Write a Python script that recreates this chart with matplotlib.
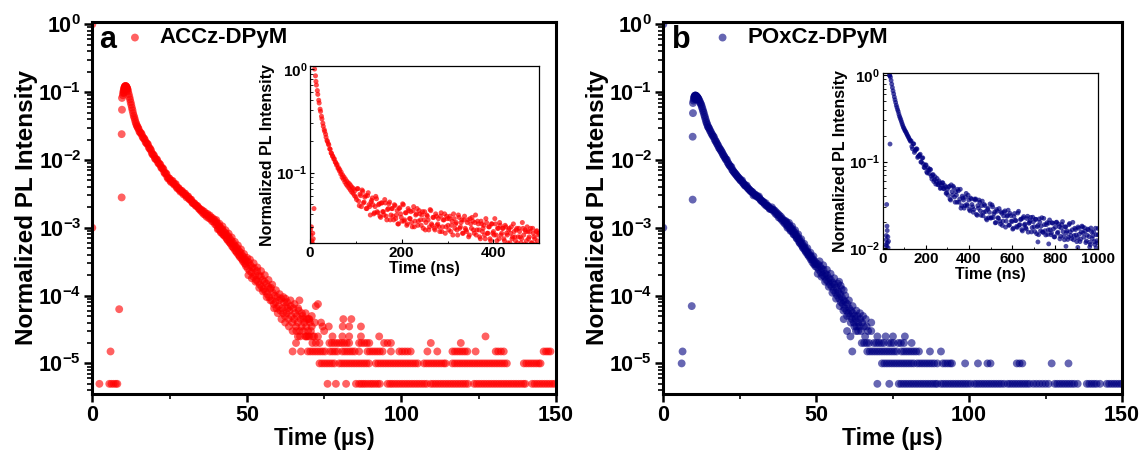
import numpy as np
import matplotlib
matplotlib.use("Agg")
import matplotlib.pyplot as plt
from matplotlib.ticker import LogLocator, MultipleLocator, NullFormatter

plt.rcParams['font.family'] = ['Liberation Sans', 'DejaVu Sans']
plt.rcParams['font.weight'] = 'bold'
plt.rcParams['mathtext.fontset'] = 'custom'
plt.rcParams['mathtext.rm'] = 'Liberation Sans:bold'
plt.rcParams['mathtext.bf'] = 'Liberation Sans:bold'
plt.rcParams['mathtext.default'] = 'bf'

# ---------------- data: panel a (ACCz-DPyM), time in us ----------------
A_LABEL = "ACCz-DPyM"
A_RISE = [(0, 1.0), (0, 1.0e-3), (8.7, 6.3e-5), (9.5, 2.8e-3), (9.5, 2.4e-2), (9.6, 5.5e-2), (9.6, 8.2e-2)]
A_PEAK = [(9.9, 0.090), (10.0, 0.097), (10.1, 0.103), (10.2, 0.108), (10.3, 0.113), (10.4, 0.117),
          (10.5, 0.120), (10.6, 0.122), (10.7, 0.123), (10.8, 0.123), (10.9, 0.122), (11.0, 0.120),
          (11.1, 0.118), (11.2, 0.115), (11.3, 0.112), (10.2, 0.098), (10.5, 0.108), (10.9, 0.112),
          (11.2, 0.105), (11.4, 0.110), (11.6, 0.102), (11.8, 0.093), (12.0, 0.085), (12.2, 0.078),
          (12.4, 0.071), (12.6, 0.065), (12.8, 0.059), (13.0, 0.054), (13.2, 0.049), (13.4, 0.045),
          (13.6, 0.042), (13.8, 0.039), (14.0, 0.036), (14.2, 0.034), (14.4, 0.032), (14.6, 0.031),
          (14.8, 0.0295)]
A_EARLY = [(15.0, 0.0285), (15.25, 0.0262), (15.5, 0.0252), (15.75, 0.0250), (16.0, 0.0238), (16.25, 0.0220),
           (16.5, 0.0210), (16.75, 0.0208), (17.0, 0.0198), (17.25, 0.0183), (17.5, 0.0176), (17.75, 0.0175),
           (18.0, 0.0169), (18.25, 0.0155), (18.5, 0.0147), (18.75, 0.0146), (19.0, 0.0138), (19.25, 0.0127),
           (19.5, 0.0120), (19.75, 0.0120), (20.0, 0.0115), (20.25, 0.0106), (20.5, 0.0102), (20.75, 0.0103),
           (21.0, 0.0100), (21.25, 0.0092), (21.5, 0.0088), (21.75, 0.0088), (22.0, 0.0085), (22.25, 0.0078),
           (22.5, 0.0075), (22.75, 0.0076), (23.0, 0.0073), (23.25, 0.0066), (23.5, 0.0063), (23.75, 0.0064),
           (24.0, 0.0062), (24.25, 0.0056), (24.5, 0.0053), (24.75, 0.0054), (25.0, 0.0053), (25.25, 0.0049),
           (25.5, 0.0047), (25.75, 0.0049), (26.0, 0.0049), (26.25, 0.0045), (26.5, 0.0043), (26.75, 0.0044),
           (27.0, 0.0044), (27.25, 0.0040), (27.5, 0.0038), (27.75, 0.0039), (28.0, 0.0038), (28.25, 0.0036),
           (28.5, 0.0034), (28.75, 0.0035), (29.0, 0.0035), (29.25, 0.0033), (29.5, 0.0031), (29.75, 0.0032),
           (30.0, 0.0032), (30.25, 0.0030), (30.5, 0.0028), (30.75, 0.0029), (31.0, 0.0029), (31.25, 0.0027),
           (31.5, 0.0026), (31.75, 0.0026), (32.0, 0.0026), (32.25, 0.0024), (32.5, 0.0023), (32.75, 0.0023),
           (33.0, 0.0023), (33.25, 0.0022), (33.5, 0.0021), (33.75, 0.0021), (34.0, 0.0021), (34.25, 0.0020),
           (34.5, 0.0019), (34.75, 0.0019), (35.0, 0.0018)]
A_MID = [(35.25, 1.85e-3), (35.5, 1.70e-3), (35.75, 1.78e-3), (36.0, 1.60e-3), (36.25, 1.72e-3), (36.5, 1.55e-3),
         (36.75, 1.62e-3), (37.0, 1.45e-3), (37.25, 1.60e-3), (37.5, 1.50e-3), (37.75, 1.38e-3), (38.0, 1.52e-3),
         (38.25, 1.35e-3), (38.5, 1.42e-3), (38.75, 1.25e-3), (39.0, 1.38e-3), (39.25, 1.22e-3), (39.5, 1.30e-3),
         (39.75, 1.12e-3), (40.0, 1.22e-3), (40.25, 1.08e-3), (40.5, 1.15e-3), (40.75, 0.98e-3), (41.0, 1.06e-3),
         (41.25, 0.92e-3), (41.5, 1.00e-3), (41.75, 0.86e-3), (42.0, 0.95e-3), (42.25, 0.80e-3), (42.5, 0.88e-3),
         (42.75, 0.76e-3), (43.0, 0.84e-3), (43.25, 0.72e-3), (43.5, 0.78e-3), (43.75, 0.66e-3), (44.0, 0.74e-3),
         (44.25, 0.62e-3), (44.5, 0.69e-3), (44.75, 0.58e-3), (45.0, 0.64e-3), (45.25, 0.53e-3), (45.5, 0.60e-3),
         (45.75, 0.50e-3), (46.0, 0.55e-3), (46.25, 0.46e-3), (46.5, 0.52e-3), (46.75, 0.43e-3), (47.0, 0.49e-3),
         (47.25, 0.40e-3), (47.5, 0.45e-3), (47.75, 0.37e-3), (48.0, 0.43e-3), (48.25, 0.35e-3), (48.5, 0.39e-3),
         (48.75, 0.32e-3), (49.0, 0.37e-3), (49.25, 0.30e-3), (49.5, 0.34e-3), (49.75, 0.27e-3), (50.0, 0.32e-3),
         (40.1, 1.3e-3), (40.6, 0.95e-3), (41.1, 1.15e-3), (41.6, 0.85e-3), (42.1, 1.05e-3), (42.6, 0.78e-3),
         (43.1, 0.92e-3), (43.6, 0.68e-3), (44.1, 0.82e-3), (44.6, 0.60e-3), (45.1, 0.72e-3), (45.6, 0.52e-3),
         (46.1, 0.62e-3), (46.6, 0.45e-3), (47.1, 0.55e-3), (47.6, 0.39e-3), (48.1, 0.48e-3), (48.6, 0.34e-3),
         (49.1, 0.41e-3), (49.6, 0.29e-3), (50.1, 0.36e-3)]
A_LATE = [(50.3, 2.5e-4), (50.6, 3.1e-4), (50.9, 2.3e-4), (51.2, 2.8e-4), (51.5, 2.2e-4), (51.8, 2.6e-4),
          (52.1, 1.9e-4), (52.4, 2.5e-4), (52.7, 2.0e-4), (53.0, 1.7e-4), (53.3, 2.3e-4), (53.6, 1.6e-4),
          (53.9, 2.0e-4), (54.2, 1.45e-4), (54.5, 1.9e-4), (54.8, 1.35e-4), (55.1, 1.7e-4), (55.4, 1.25e-4),
          (55.7, 1.6e-4), (56.0, 1.15e-4), (56.3, 1.5e-4), (56.6, 1.05e-4), (56.9, 1.35e-4), (57.2, 9.5e-5),
          (57.5, 1.25e-4), (57.8, 1.3e-4), (58.1, 8.5e-5), (58.4, 1.1e-4), (58.7, 7.5e-5), (59.0, 1.0e-4),
          (59.3, 8.0e-5), (59.6, 6.5e-5), (59.9, 9.5e-5), (60.2, 7.0e-5), (60.5, 8.5e-5), (60.8, 6.0e-5),
          (61.1, 9.0e-5), (61.4, 6.5e-5), (61.7, 5.5e-5), (62.0, 8.0e-5), (62.3, 5.0e-5), (62.6, 7.0e-5),
          (62.9, 5.5e-5), (63.2, 6.5e-5), (63.5, 4.5e-5), (63.8, 6.0e-5), (64.1, 8.5e-5), (64.4, 5.0e-5),
          (64.7, 4.0e-5), (65.0, 6.5e-5), (65.3, 4.5e-5), (65.6, 5.5e-5), (65.9, 3.5e-5), (66.2, 5.0e-5),
          (66.5, 4.0e-5), (66.8, 6.0e-5), (67.1, 3.0e-5), (67.4, 4.5e-5), (67.7, 3.5e-5), (68.0, 5.0e-5),
          (68.3, 3.0e-5), (68.6, 4.0e-5), (68.9, 2.5e-5), (69.2, 3.5e-5), (69.5, 4.5e-5), (69.8, 3.0e-5),
          (70.1, 2.5e-5), (70.4, 4.0e-5), (70.7, 3.0e-5), (71.0, 3.5e-5), (71.3, 2.5e-5), (72.3, 7.0e-5),
          (73.0, 7.5e-5), (67.0, 8.5e-5), (62.5, 9.0e-5),
          (50.5, 2.0e-4), (51.0, 3.4e-4), (51.6, 1.8e-4), (52.2, 3.0e-4), (52.8, 1.6e-4), (53.4, 2.6e-4),
          (54.0, 1.3e-4), (54.6, 2.3e-4), (55.2, 1.15e-4), (55.8, 2.0e-4), (56.4, 9.5e-5), (57.0, 1.7e-4),
          (57.6, 8.5e-5), (58.2, 1.45e-4), (58.8, 6.5e-5), (59.4, 1.2e-4), (60.0, 5.5e-5), (60.6, 1.05e-4),
          (61.2, 4.5e-5), (61.8, 9.5e-5), (62.4, 4.0e-5), (63.0, 8.0e-5), (63.6, 3.5e-5), (64.2, 7.0e-5),
          (64.8, 3.0e-5), (65.4, 7.5e-5), (66.0, 3.0e-5), (66.6, 6.5e-5), (67.2, 2.5e-5), (67.8, 5.5e-5),
          (68.4, 4.5e-5), (69.0, 5.5e-5), (69.6, 2.5e-5), (70.2, 4.5e-5), (71.0, 5.0e-5), (72.0, 4.0e-5),
          (74.0, 4.0e-5), (75.0, 3.0e-5)]
# quantized low-count rows (time positions per intensity level)
A_ROW_5E6 = [2.3, 5.5, 6.2, 6.9, 7.6, 8.1, 76.1, 78.8, 82.1, 85.3, 86.3, 87.0, 87.7, 88.4, 89.2, 90.0, 90.7,
             91.5, 92.3, 93.0, 95.5, 96.3, 97.0, 97.8, 98.6, 99.4, 100.2, 101.0, 101.8, 102.6, 103.4, 104.2,
             105.0, 105.8, 106.6, 107.4, 108.2, 109.5, 110.3, 111.1, 111.9, 112.7, 113.5, 114.3, 115.1, 115.9,
             116.7, 117.5, 118.3, 119.1, 119.9, 120.7, 121.5, 123.5, 124.3, 125.1, 125.9, 126.7, 127.5, 128.3,
             129.1, 129.9, 130.7, 131.5, 132.3, 133.1, 133.9, 134.7, 135.5, 136.3, 137.1, 137.9, 138.7, 139.5,
             140.1, 142.3, 143.1, 143.9, 144.7, 145.5, 146.3, 147.1, 147.9, 148.7, 149.5]
A_ROW_1E5 = [73.5, 74.3, 75.1, 75.9, 76.7, 77.5, 78.3, 79.9, 80.7, 81.5, 82.3, 83.1, 83.9, 84.7, 85.5, 86.3,
             87.1, 87.9, 88.7, 89.5, 91.7, 92.5, 93.3, 94.1, 94.9, 95.7, 96.5, 97.3, 98.1, 98.9, 99.7, 100.5,
             101.3, 102.1, 102.9, 103.7, 104.5, 105.3, 107.3, 108.1, 108.9, 109.7, 110.5, 111.3, 112.1, 112.9,
             113.7, 114.3, 116.5, 117.3, 118.1, 118.9, 119.7, 120.5, 121.3, 122.1, 122.9, 123.7, 124.5, 125.3,
             126.1, 126.9, 127.7, 128.5, 129.3, 130.1, 130.9, 131.7, 132.5, 133.3, 134.1, 139.6, 140.4, 141.2,
             142.0, 142.8, 143.6, 144.4, 145.0]
A_ROW_15E6 = [5.9, 64.8, 67.5, 69.7, 70.5, 71.3, 72.1, 72.9, 73.7, 74.5, 75.3, 76.9, 77.7, 78.5, 79.3, 80.9,
              81.7, 82.5, 83.3, 84.1, 84.9, 86.3, 89.0, 89.8, 90.6, 91.4, 92.2, 93.0, 93.9, 96.6, 99.3, 100.2,
              101.1, 102.0, 103.0, 108.4, 111.6, 116.5, 117.3, 118.1, 118.9, 119.7, 120.5, 121.3, 124.0, 130.5,
              131.3, 132.2, 133.1, 146.0, 146.8, 147.5, 148.2]
A_ROW_2E5 = [65.9, 71.2, 72.3, 73.5, 76.7, 77.5, 78.3, 79.1, 79.9, 80.7, 81.5, 82.3, 83.1, 86.3, 87.1, 88.0,
             88.8, 89.6, 94.4, 95.5, 96.6, 109.5, 119.2]
A_ROW_25E5 = [66.5, 69.2, 71.8, 73.0, 77.7, 80.9, 83.1, 86.9, 92.8, 127.2]
A_ROW_35E5 = [74.5, 76.5, 81.0, 83.1, 86.9]
A_ROW_45E5 = [70.0, 81.2, 83.8]

# inset a, time in ns
A_INSET = [(1, 0.028), (2, 0.025), (3, 0.030), (4, 0.022), (5, 0.021), (6, 0.026), (7, 0.023), (8.7, 0.045),
           (10, 1.00), (12, 0.86), (13, 0.76), (14, 0.70), (16, 0.62), (17, 0.57), (19, 0.50), (20, 0.47),
           (22, 0.41), (23, 0.39), (25, 0.35), (26, 0.33), (28, 0.30), (29, 0.28), (31, 0.26), (32, 0.25),
           (34, 0.235), (35, 0.22), (37, 0.205), (38, 0.20), (40, 0.19), (41, 0.185), (43, 0.17), (44, 0.168),
           (46, 0.155), (47, 0.153), (49, 0.145), (50, 0.143), (52, 0.135), (53, 0.136), (55, 0.127),
           (56, 0.125), (58, 0.118), (59, 0.120), (61, 0.110), (62, 0.112), (64, 0.104), (65, 0.107),
           (67, 0.097), (68, 0.101), (70, 0.090), (71, 0.095), (73, 0.086), (74, 0.091), (76, 0.081),
           (77, 0.087), (79, 0.077), (80, 0.083), (82, 0.074), (83, 0.080), (85, 0.071), (86, 0.078),
           (88, 0.068), (89, 0.075), (91, 0.065), (92, 0.072), (94, 0.063), (95, 0.070), (97, 0.060),
           (98, 0.067), (100, 0.058),
           (103, 0.070), (106, 0.053), (109, 0.062), (112, 0.047), (115, 0.066), (118, 0.052), (121, 0.060),
           (124, 0.045), (127, 0.064), (130, 0.047), (133, 0.052), (136, 0.057), (139, 0.040), (142, 0.047),
           (145, 0.056), (148, 0.041), (151, 0.050), (154, 0.037), (157, 0.051), (160, 0.042), (163, 0.055),
           (166, 0.038), (169, 0.044), (172, 0.050), (175, 0.035), (178, 0.045), (181, 0.038), (184, 0.049),
           (187, 0.036), (190, 0.043), (193, 0.032), (196, 0.046), (199, 0.037), (202, 0.050), (205, 0.034),
           (208, 0.041), (211, 0.031), (214, 0.045), (217, 0.036), (220, 0.042), (223, 0.030), (226, 0.047),
           (229, 0.034), (232, 0.040), (235, 0.031), (238, 0.043), (241, 0.035), (244, 0.039), (247, 0.029),
           (250, 0.042), (253, 0.033), (256, 0.038), (259, 0.028), (262, 0.044), (265, 0.032), (268, 0.037),
           (271, 0.029), (274, 0.040), (277, 0.031), (280, 0.036), (283, 0.027), (286, 0.041), (289, 0.030),
           (292, 0.035), (295, 0.026), (298, 0.038), (301, 0.031), (304, 0.036), (307, 0.027), (310, 0.034),
           (313, 0.040), (316, 0.029), (319, 0.033), (322, 0.025), (325, 0.037), (328, 0.030), (331, 0.035),
           (334, 0.026), (337, 0.038), (340, 0.028), (343, 0.033), (346, 0.024), (349, 0.036), (352, 0.029),
           (355, 0.034), (358, 0.026), (361, 0.039), (364, 0.028), (367, 0.032), (370, 0.024), (373, 0.034),
           (376, 0.027), (379, 0.031), (382, 0.023), (385, 0.033), (388, 0.026), (391, 0.030), (394, 0.022),
           (397, 0.032), (400, 0.027), (403, 0.036), (406, 0.025), (409, 0.029), (412, 0.023), (415, 0.031),
           (418, 0.026), (421, 0.029), (424, 0.022), (427, 0.030), (430, 0.025), (433, 0.028), (436, 0.021),
           (439, 0.030), (442, 0.024), (445, 0.027), (448, 0.022), (451, 0.029), (454, 0.024), (457, 0.027),
           (460, 0.021), (463, 0.033), (466, 0.025), (469, 0.028), (472, 0.022), (475, 0.027), (478, 0.024),
           (481, 0.029), (484, 0.021), (487, 0.026), (490, 0.023), (493, 0.027), (496, 0.022), (499, 0.026)]
A_INSET_2 = [(101.5, 0.055), (104.5, 0.070), (107.5, 0.048), (110.5, 0.060), (113.5, 0.068), (116.5, 0.051),
             (119.5, 0.058), (122.5, 0.045), (125.5, 0.060), (128.5, 0.049), (131.5, 0.039), (134.5, 0.054),
             (137.5, 0.049), (140.5, 0.041), (143.5, 0.059), (146.5, 0.042), (149.5, 0.049), (152.5, 0.038),
             (155.5, 0.051), (158.5, 0.042), (161.5, 0.039), (164.5, 0.051), (167.5, 0.035), (170.5, 0.045),
             (173.5, 0.052), (176.5, 0.039), (179.5, 0.045), (182.5, 0.035), (185.5, 0.048), (188.5, 0.039),
             (191.5, 0.032), (194.5, 0.045), (197.5, 0.040), (200.5, 0.034), (203.5, 0.049), (206.5, 0.035),
             (209.5, 0.041), (212.5, 0.032), (215.5, 0.043), (218.5, 0.036), (221.5, 0.033), (224.5, 0.043),
             (227.5, 0.030), (230.5, 0.039), (233.5, 0.045), (236.5, 0.034), (239.5, 0.040), (242.5, 0.031),
             (245.5, 0.042), (248.5, 0.035), (251.5, 0.028), (254.5, 0.039), (257.5, 0.035), (260.5, 0.030),
             (263.5, 0.043), (266.5, 0.031), (269.5, 0.037), (272.5, 0.028), (275.5, 0.038), (278.5, 0.032),
             (281.5, 0.030), (284.5, 0.038), (287.5, 0.027), (290.5, 0.035), (293.5, 0.040), (296.5, 0.030),
             (299.5, 0.036), (302.5, 0.028), (305.5, 0.038), (308.5, 0.031), (311.5, 0.025), (314.5, 0.036),
             (317.5, 0.032), (320.5, 0.028), (323.5, 0.039), (326.5, 0.029), (329.5, 0.033), (332.5, 0.026),
             (335.5, 0.035), (338.5, 0.029), (341.5, 0.027), (344.5, 0.035), (347.5, 0.025), (350.5, 0.032),
             (353.5, 0.037), (356.5, 0.028), (359.5, 0.033), (362.5, 0.025), (365.5, 0.034), (368.5, 0.028),
             (371.5, 0.023), (374.5, 0.032), (377.5, 0.029), (380.5, 0.025), (383.5, 0.036), (386.5, 0.026),
             (389.5, 0.030), (392.5, 0.023), (395.5, 0.032), (398.5, 0.026), (401.5, 0.025), (404.5, 0.032),
             (407.5, 0.022), (410.5, 0.029), (413.5, 0.033), (416.5, 0.025), (419.5, 0.029), (422.5, 0.023),
             (425.5, 0.031), (428.5, 0.026), (431.5, 0.021), (434.5, 0.029), (437.5, 0.026), (440.5, 0.023),
             (443.5, 0.032), (446.5, 0.024), (449.5, 0.028), (452.5, 0.021), (455.5, 0.029), (458.5, 0.024),
             (461.5, 0.023), (464.5, 0.029), (467.5, 0.0205), (470.5, 0.027), (473.5, 0.030), (476.5, 0.023),
             (479.5, 0.027), (482.5, 0.021), (485.5, 0.029), (488.5, 0.024), (491.5, 0.0205), (494.5, 0.0275),
             (497.5, 0.025)]

# ---------------- data: panel b (POxCz-DPyM), time in us ----------------
B_LABEL = "POxCz-DPyM"
B_RISE = [(0, 1.0), (0, 1.0e-3), (9.3, 7.0e-5), (9.6, 2.6e-3), (9.6, 2.2e-2), (9.7, 4.9e-2), (9.7, 6.9e-2)]
B_PEAK = [(9.9, 0.075), (10.0, 0.080), (10.1, 0.084), (10.2, 0.086), (10.3, 0.088), (10.4, 0.089),
          (10.5, 0.089), (10.6, 0.089), (10.7, 0.088), (10.8, 0.087), (10.9, 0.086), (11.0, 0.085),
          (11.1, 0.084), (11.2, 0.083), (11.3, 0.082), (11.4, 0.080), (10.4, 0.079), (10.8, 0.078),
          (11.6, 0.078), (11.8, 0.075), (12.0, 0.071), (12.2, 0.068), (12.4, 0.065), (12.6, 0.061),
          (12.8, 0.057), (13.0, 0.053), (13.2, 0.050), (13.4, 0.046), (13.6, 0.043), (13.8, 0.040),
          (14.0, 0.037), (14.2, 0.035), (14.4, 0.033), (14.6, 0.031), (14.8, 0.030)]
B_EARLY = [(15.0, 0.0290), (15.25, 0.0272), (15.5, 0.0262), (15.75, 0.0245), (16.0, 0.0236), (16.25, 0.0224),
           (16.5, 0.0220), (16.75, 0.0204), (17.0, 0.0192), (17.25, 0.0186), (17.5, 0.0176), (17.75, 0.0168),
           (18.0, 0.0160), (18.25, 0.0150), (18.5, 0.0146), (18.75, 0.0140), (19.0, 0.0134), (19.25, 0.0128),
           (19.5, 0.0121), (19.75, 0.0116), (20.0, 0.0111), (20.25, 0.0106), (20.5, 0.0101), (20.75, 0.0101),
           (21.0, 0.0093), (21.25, 0.0089), (21.5, 0.0085), (21.75, 0.0082), (22.0, 0.0079), (22.25, 0.0079),
           (22.5, 0.0072), (22.75, 0.0070), (23.0, 0.0067), (23.25, 0.0065), (23.5, 0.0063), (23.75, 0.0061),
           (24.0, 0.0059), (24.25, 0.0057), (24.5, 0.0055), (24.75, 0.0054), (25.0, 0.0052), (25.25, 0.0050),
           (25.5, 0.0049), (25.75, 0.0050), (26.0, 0.0046), (26.25, 0.0045), (26.5, 0.0043), (26.75, 0.0042),
           (27.0, 0.0041), (27.25, 0.0042), (27.5, 0.0039), (27.75, 0.0038), (28.0, 0.0037), (28.25, 0.0036),
           (28.5, 0.0035), (28.75, 0.0034), (29.0, 0.0034), (29.25, 0.0033), (29.5, 0.0030), (29.75, 0.0031),
           (30.0, 0.0031), (30.25, 0.0030), (30.5, 0.0029), (30.75, 0.0029), (31.0, 0.0028), (31.25, 0.0029),
           (31.5, 0.0027), (31.75, 0.0026), (32.0, 0.0025), (32.25, 0.0025), (32.5, 0.0024), (32.75, 0.0024),
           (33.0, 0.0023), (33.25, 0.0022), (33.5, 0.0023), (33.75, 0.0021), (34.0, 0.0021), (34.25, 0.0021),
           (34.5, 0.0020), (34.75, 0.0019), (35.0, 0.0019)]
B_MID = [(35.25, 1.90e-3), (35.5, 2.00e-3), (35.75, 1.82e-3), (36.0, 1.85e-3), (36.25, 1.72e-3), (36.5, 1.78e-3),
         (36.75, 1.60e-3), (37.0, 1.68e-3), (37.25, 1.55e-3), (37.5, 1.60e-3), (37.75, 1.42e-3), (38.0, 1.52e-3),
         (38.25, 1.38e-3), (38.5, 1.45e-3), (38.75, 1.30e-3), (39.0, 1.35e-3), (39.25, 1.22e-3), (39.5, 1.28e-3),
         (39.75, 1.15e-3), (40.0, 1.22e-3), (40.25, 1.10e-3), (40.5, 1.16e-3), (40.75, 1.05e-3), (41.0, 1.10e-3),
         (41.25, 0.98e-3), (41.5, 1.02e-3), (41.75, 0.92e-3), (42.0, 0.97e-3), (42.25, 0.87e-3), (42.5, 0.90e-3),
         (42.75, 0.80e-3), (43.0, 0.85e-3), (43.25, 0.76e-3), (43.5, 0.78e-3), (43.75, 0.70e-3), (44.0, 0.73e-3),
         (44.25, 0.64e-3), (44.5, 0.67e-3), (44.75, 0.59e-3), (45.0, 0.62e-3), (45.25, 0.55e-3), (45.5, 0.57e-3),
         (45.75, 0.50e-3), (46.0, 0.53e-3), (46.25, 0.47e-3), (46.5, 0.49e-3), (46.75, 0.43e-3), (47.0, 0.45e-3),
         (47.25, 0.40e-3), (47.5, 0.42e-3), (47.75, 0.37e-3), (48.0, 0.39e-3), (48.25, 0.34e-3), (48.5, 0.37e-3),
         (48.75, 0.31e-3), (49.0, 0.34e-3), (49.25, 0.29e-3), (49.5, 0.32e-3), (49.75, 0.27e-3), (50.0, 0.30e-3),
         (40.1, 1.25e-3), (40.6, 1.0e-3), (41.1, 1.18e-3), (41.6, 0.9e-3), (42.1, 1.05e-3), (42.6, 0.80e-3),
         (43.1, 0.92e-3), (43.6, 0.70e-3), (44.1, 0.80e-3), (44.6, 0.60e-3), (45.1, 0.68e-3), (45.6, 0.52e-3),
         (46.1, 0.58e-3), (46.6, 0.45e-3), (47.1, 0.50e-3), (47.6, 0.39e-3), (48.1, 0.43e-3), (48.6, 0.34e-3),
         (49.1, 0.38e-3), (49.6, 0.29e-3)]
B_LATE = [(50.3, 2.6e-4), (50.6, 2.9e-4), (50.9, 2.4e-4), (51.2, 2.7e-4), (51.5, 2.2e-4), (51.8, 2.5e-4),
          (52.1, 2.0e-4), (52.4, 2.4e-4), (52.7, 1.9e-4), (53.0, 2.1e-4), (53.3, 1.7e-4), (53.6, 2.0e-4),
          (53.9, 1.6e-4), (54.2, 1.8e-4), (54.5, 1.45e-4), (54.8, 1.7e-4), (55.1, 1.35e-4), (55.4, 1.55e-4),
          (55.7, 1.2e-4), (56.0, 1.45e-4), (56.3, 1.1e-4), (56.6, 1.3e-4), (56.9, 1.0e-4), (57.2, 1.15e-4),
          (57.5, 9.0e-5), (57.8, 1.05e-4), (58.1, 8.0e-5), (58.4, 9.5e-5), (58.7, 7.5e-5), (59.0, 8.5e-5),
          (59.3, 6.5e-5), (59.6, 8.0e-5), (59.9, 6.0e-5), (60.2, 7.5e-5), (60.5, 5.5e-5), (60.8, 6.5e-5),
          (61.1, 5.0e-5), (61.4, 6.0e-5), (61.7, 4.5e-5), (62.0, 5.5e-5), (62.3, 4.0e-5), (62.6, 5.0e-5),
          (62.9, 4.5e-5), (63.2, 3.5e-5), (63.5, 5.0e-5), (63.8, 4.0e-5), (64.1, 3.5e-5), (64.4, 4.5e-5),
          (64.7, 3.0e-5), (65.0, 4.0e-5), (65.6, 3.5e-5), (66.2, 4.5e-5), (67.0, 3.0e-5), (68.0, 4.0e-5),
          (57.5, 1.6e-4), (58.0, 1.4e-4), (59.0, 1.2e-4), (59.0, 4.5e-5),
          (50.5, 2.1e-4), (51.1, 3.2e-4), (51.7, 1.9e-4), (52.3, 2.8e-4), (52.9, 1.6e-4), (53.5, 2.4e-4),
          (54.1, 1.35e-4), (54.7, 2.1e-4), (55.3, 1.1e-4), (55.9, 1.8e-4), (56.5, 9.0e-5), (57.1, 1.5e-4),
          (57.7, 7.0e-5), (58.3, 1.25e-4), (58.9, 6.0e-5), (59.5, 1.0e-4), (60.1, 5.0e-5), (60.7, 8.5e-5),
          (61.3, 4.0e-5), (61.9, 7.0e-5), (62.5, 3.5e-5), (63.1, 6.0e-5), (63.7, 3.0e-5), (64.3, 5.5e-5),
          (65.3, 5.0e-5), (66.5, 3.5e-5)]
B_ROW_5E6 = [70.0, 73.9, 77.0, 77.8, 78.6, 79.4, 80.2, 81.0, 81.8, 82.6, 83.4, 84.2, 85.0, 85.8, 86.6, 87.4,
             88.2, 89.0, 89.6, 90.8, 91.6, 92.4, 93.2, 94.0, 94.8, 95.6, 96.4, 97.2, 98.0, 98.8, 99.6, 100.5,
             101.7, 102.5, 103.3, 104.1, 104.9, 105.7, 106.5, 107.3, 108.1, 108.9, 109.7, 110.5, 111.4, 112.6,
             113.4, 114.2, 115.0, 115.8, 116.6, 117.4, 118.2, 119.0, 119.8, 121.0, 122.0, 123.0, 124.0, 125.0,
             126.0, 128.0, 128.8, 129.6, 130.4, 131.2, 132.0, 132.8, 133.6, 134.4, 135.5, 138.5, 139.3, 140.1,
             140.9, 141.7, 142.8, 145.0, 145.8, 146.6, 147.4, 148.2, 149.0, 149.8]
B_ROW_1E5 = [6.0, 71.5, 72.3, 73.1, 73.9, 74.7, 75.5, 76.3, 77.1, 77.9, 78.7, 79.5, 80.3, 81.1, 81.9, 83.0,
             83.8, 84.6, 85.4, 86.2, 87.0, 87.8, 88.6, 89.6, 91.4, 92.2, 93.0, 93.8, 94.4, 98.7, 102.9, 106.0,
             107.0, 115.6, 116.5, 117.4, 127.0, 132.5]
B_ROW_15E6 = [6.3, 61.8, 66.7, 67.5, 68.3, 69.1, 69.9, 70.7, 71.5, 72.3, 73.1, 73.9, 74.7, 75.5, 76.3, 77.9,
              78.7, 79.5, 80.3, 81.1, 81.9, 82.7, 83.6, 87.2, 90.8]
B_ROW_2E5 = [64.9, 65.7, 66.5, 67.3, 68.9, 69.7, 70.5, 71.3, 72.1, 73.7, 74.5, 75.3, 76.9, 77.7, 78.7, 81.2]
B_ROW_25E5 = [61.2, 66.0, 70.0, 72.7, 75.1, 79.0]
B_ROW_3E5 = [60.1, 63.0, 68.0]

# inset b, time in ns
B_INSET = [(15, 0.011), (16, 0.0125), (17, 0.0140), (18, 0.0105), (18.5, 0.032), (20, 0.018), (21, 0.016),
           (22, 0.0115), (24, 0.0135), (25, 0.0101), (27, 0.012), (34, 0.16),
           (31, 1.0), (33, 0.99), (36, 0.95), (39, 0.87), (42, 0.79), (45, 0.72), (48, 0.66), (51, 0.61),
           (54, 0.56), (57, 0.52), (60, 0.485), (63, 0.45), (66, 0.425), (69, 0.40), (72, 0.38), (75, 0.355),
           (78, 0.335), (81, 0.32), (84, 0.305), (87, 0.29), (90, 0.275), (93, 0.262), (96, 0.25), (99, 0.242),
           (102, 0.232), (105, 0.226), (108, 0.219), (111, 0.211), (114, 0.204), (117, 0.197), (120, 0.191),
           (123, 0.184), (126, 0.178), (129, 0.172),
           (132, 0.174), (138, 0.141), (144, 0.161), (150, 0.134), (156, 0.141), (162, 0.112), (168, 0.117),
           (174, 0.122), (180, 0.099), (186, 0.111), (192, 0.086), (198, 0.091), (204, 0.076), (210, 0.085),
           (216, 0.073), (222, 0.081), (228, 0.063), (234, 0.071), (240, 0.062), (246, 0.055), (252, 0.064),
           (258, 0.054), (264, 0.057), (270, 0.050), (276, 0.057), (282, 0.049), (288, 0.053), (294, 0.043),
           (300, 0.048),
           (306, 0.051), (312, 0.037), (318, 0.054), (324, 0.041), (330, 0.050), (336, 0.034), (342, 0.041),
           (348, 0.048), (354, 0.034), (360, 0.048), (366, 0.031), (372, 0.038), (378, 0.029), (384, 0.039),
           (390, 0.032), (396, 0.041), (402, 0.028), (408, 0.038), (414, 0.032), (420, 0.026), (426, 0.037),
           (432, 0.037), (438, 0.024), (444, 0.029), (450, 0.034), (456, 0.024), (462, 0.035), (468, 0.026),
           (474, 0.031), (480, 0.022), (486, 0.028), (492, 0.0225), (498, 0.0325), (504, 0.0226), (510, 0.030),
           (516, 0.025), (522, 0.0196), (528, 0.028), (534, 0.0225), (540, 0.0287), (546, 0.019), (552, 0.0253),
           (558, 0.0205), (564, 0.026), (570, 0.0175), (576, 0.0233), (582, 0.0275), (588, 0.0185), (594, 0.0238),
           (600, 0.0203), (606, 0.017), (612, 0.0252), (618, 0.0208), (624, 0.0174), (630, 0.0267), (636, 0.0187),
           (642, 0.0217), (648, 0.0158), (654, 0.0232), (660, 0.019), (666, 0.0167), (672, 0.0234), (678, 0.0194),
           (684, 0.0208), (690, 0.0154), (696, 0.0228), (702, 0.0177), (708, 0.0216), (714, 0.0147), (720, 0.0183),
           (726, 0.0218), (732, 0.0159), (738, 0.0225), (744, 0.0152), (750, 0.0187), (756, 0.0142), (762, 0.0197),
           (768, 0.0163), (774, 0.0212), (780, 0.0143), (786, 0.0197), (792, 0.0167), (798, 0.0135), (804, 0.0198),
           (810, 0.0149), (816, 0.019), (822, 0.0128), (828, 0.0171), (834, 0.0203), (840, 0.0137), (846, 0.0176),
           (852, 0.0151), (858, 0.0126), (864, 0.0187), (870, 0.0155), (876, 0.0129), (882, 0.0199), (888, 0.014),
           (894, 0.0164), (900, 0.0119), (906, 0.0176), (912, 0.0145), (918, 0.0127), (924, 0.018), (930, 0.015),
           (936, 0.0172), (942, 0.0116), (948, 0.0141), (954, 0.0163), (960, 0.0117), (966, 0.0171), (972, 0.0129),
           (978, 0.0155), (984, 0.011), (990, 0.0143), (996, 0.0115), (999, 0.0169),
           (720, 0.0118), (770, 0.0112), (850, 0.0105), (905, 0.0102), (960, 0.0103), (990, 0.0101)]
B_INSET_2 = [(135, 0.150), (141, 0.161), (147, 0.128), (153, 0.137), (159, 0.140), (165, 0.115), (171, 0.119),
             (177, 0.099), (183, 0.110), (189, 0.094), (195, 0.085), (201, 0.092), (207, 0.074), (213, 0.080),
             (219, 0.082), (225, 0.068), (231, 0.070), (237, 0.059), (243, 0.067), (249, 0.059), (255, 0.0545),
             (261, 0.060), (267, 0.049), (273, 0.054), (279, 0.057), (285, 0.0485), (291, 0.051), (297, 0.0437),
             (303, 0.041), (309, 0.052), (315, 0.036), (321, 0.045), (327, 0.052), (333, 0.039), (339, 0.045),
             (345, 0.034), (351, 0.046), (357, 0.037), (363, 0.029), (369, 0.040), (375, 0.036), (381, 0.031),
             (387, 0.043), (393, 0.031), (399, 0.036), (405, 0.027), (411, 0.037), (417, 0.030), (423, 0.028),
             (429, 0.036), (435, 0.0246), (441, 0.031), (447, 0.036), (453, 0.027), (459, 0.031), (465, 0.0237),
             (471, 0.032), (477, 0.0265), (483, 0.0212), (489, 0.029), (495, 0.026), (501, 0.0222), (507, 0.0316),
             (513, 0.0226), (519, 0.0262), (525, 0.0198), (531, 0.0267), (537, 0.0222), (543, 0.0205),
             (549, 0.0263), (555, 0.0183), (561, 0.0236), (567, 0.027), (573, 0.0205), (579, 0.0239),
             (585, 0.0184), (591, 0.0252), (597, 0.0206), (603, 0.0166), (609, 0.0232), (615, 0.0209),
             (621, 0.0178), (627, 0.0255), (633, 0.0184), (639, 0.0214), (645, 0.0164), (651, 0.0223),
             (657, 0.0185), (663, 0.0172), (669, 0.022), (675, 0.0153), (681, 0.0198), (687, 0.0227),
             (693, 0.0173), (699, 0.0202), (705, 0.0156), (711, 0.0215), (717, 0.0177), (723, 0.0143),
             (729, 0.020), (735, 0.018), (741, 0.0154), (747, 0.0221), (753, 0.0159), (759, 0.0187),
             (765, 0.0144), (771, 0.0195), (777, 0.0163), (783, 0.015), (789, 0.0194), (795, 0.0135),
             (801, 0.0175), (807, 0.020), (813, 0.0153), (819, 0.0177), (825, 0.0137), (831, 0.0188),
             (837, 0.0155), (843, 0.0125), (849, 0.0176), (855, 0.0158), (861, 0.0135), (867, 0.0193),
             (873, 0.014), (879, 0.0163), (885, 0.0125), (891, 0.017), (897, 0.0142), (903, 0.0132),
             (909, 0.017), (915, 0.0119), (921, 0.0154), (927, 0.0176), (933, 0.0134), (939, 0.0157),
             (945, 0.0121), (951, 0.0166), (957, 0.0136), (963, 0.011), (969, 0.0154), (975, 0.0139),
             (981, 0.0119), (987, 0.017), (993, 0.0122), (999, 0.0143)]

RED = "#ff0000"
NAVY = "#000080"

W, H = 1143, 454
fig = plt.figure(figsize=(W / 100, H / 100), dpi=100)


def fr(x0, y0, x1, y1):
    return [x0 / W, 1 - y1 / H, (x1 - x0) / W, (y1 - y0) / H]


axa = fig.add_axes(fr(92.3, 22.3, 556, 393.5))
axb = fig.add_axes(fr(663.3, 22.3, 1122, 393.5))
ina = fig.add_axes(fr(310, 66, 539.3, 243.3))
inb = fig.add_axes(fr(882.7, 72.7, 1098.3, 249.3))


def collect(segments, rows):
    ts, ys = [], []
    for seg in segments:
        for t, y in seg:
            ts.append(t)
            ys.append(y)
    for level, times in rows:
        ts.extend(times)
        ys.extend([level] * len(times))
    return ts, ys


def style_main(ax):
    ax.set_yscale('log')
    ax.set_xlim(0, 150)
    ax.set_ylim(3.6e-6, 1.07)
    ax.xaxis.set_major_locator(MultipleLocator(50))
    ax.xaxis.set_minor_locator(MultipleLocator(25))
    ax.yaxis.set_major_locator(LogLocator(base=10, numticks=12))
    ax.yaxis.set_minor_locator(LogLocator(base=10, subs=np.arange(2, 10) * 1.0, numticks=30))
    ax.yaxis.set_minor_formatter(NullFormatter())
    for s in ax.spines.values():
        s.set_linewidth(2.2)
    ax.tick_params(which='major', direction='out', length=6, width=1.8, labelsize=15.5, pad=2)
    ax.tick_params(which='minor', direction='out', length=3.5, width=1.2)
    ax.set_xlabel('Time (µs)', fontsize=16.5, fontweight='bold', labelpad=1)
    ax.set_ylabel('Normalized PL Intensity', fontsize=17.5, fontweight='bold', labelpad=0)


def style_inset(ax, xmax, xmajor, ylo):
    ax.set_yscale('log')
    ax.set_xlim(0, xmax)
    ax.set_ylim(ylo, 1.07)
    ax.xaxis.set_major_locator(MultipleLocator(xmajor))
    ax.xaxis.set_minor_locator(MultipleLocator(xmajor / 2))
    ax.yaxis.set_major_locator(LogLocator(base=10, numticks=12))
    ax.yaxis.set_minor_locator(LogLocator(base=10, subs=np.arange(2, 10) * 1.0, numticks=30))
    ax.yaxis.set_minor_formatter(NullFormatter())
    for s in ax.spines.values():
        s.set_linewidth(0.9)
    ax.tick_params(which='major', direction='in', length=3, width=0.8, labelsize=11, pad=2)
    ax.tick_params(which='minor', direction='in', length=1.8, width=0.6)
    ax.set_xlabel('Time (ns)', fontsize=11.5, fontweight='bold', labelpad=1)
    ax.set_ylabel('Normalized PL Intensity', fontsize=11.5, fontweight='bold', labelpad=1)


# panel a
ta, ya = collect([A_RISE, A_PEAK, A_EARLY, A_MID, A_LATE],
                 [(5e-6, A_ROW_5E6), (1e-5, A_ROW_1E5), (1.5e-5, A_ROW_15E6), (2e-5, A_ROW_2E5),
                  (2.5e-5, A_ROW_25E5), (3.5e-5, A_ROW_35E5), (4.5e-5, A_ROW_45E5)])
sa = axa.scatter(ta, ya, s=32, color=RED, alpha=0.62, edgecolors='none', label=A_LABEL)
style_main(axa)
axa.text(0.034, 0.931, 'a', transform=axa.transAxes, fontsize=22, fontweight='bold',
         ha='center', va='baseline')
axa.legend(handles=[sa], labels=[A_LABEL], loc='center left', bbox_to_anchor=(0.068, 0.958),
           frameon=False, fontsize=16, handlelength=1.0, handletextpad=0.6, borderpad=0,
           borderaxespad=0, scatterpoints=1)

# panel b
tb, yb = collect([B_RISE, B_PEAK, B_EARLY, B_MID, B_LATE],
                 [(5e-6, B_ROW_5E6), (1e-5, B_ROW_1E5), (1.5e-5, B_ROW_15E6), (2e-5, B_ROW_2E5),
                  (2.5e-5, B_ROW_25E5), (3e-5, B_ROW_3E5)])
sb = axb.scatter(tb, yb, s=32, color=NAVY, alpha=0.6, edgecolors='none', label=B_LABEL)
style_main(axb)
axb.text(0.039, 0.931, 'b', transform=axb.transAxes, fontsize=22, fontweight='bold',
         ha='center', va='baseline')
axb.legend(handles=[sb], labels=[B_LABEL], loc='center left', bbox_to_anchor=(0.105, 0.958),
           frameon=False, fontsize=16, handlelength=1.0, handletextpad=0.6, borderpad=0,
           borderaxespad=0, scatterpoints=1)

# insets
tia, yia = collect([A_INSET, A_INSET_2], [])
ina.scatter(tia, yia, s=13, color=RED, alpha=0.7, edgecolors='none')
style_inset(ina, 500, 200, 0.0208)

tib, yib = collect([B_INSET, B_INSET_2], [])
inb.scatter(tib, yib, s=12, color=NAVY, alpha=0.7, edgecolors='none')
style_inset(inb, 1000, 200, 0.0097)

fig.savefig('out.png', dpi=100)
